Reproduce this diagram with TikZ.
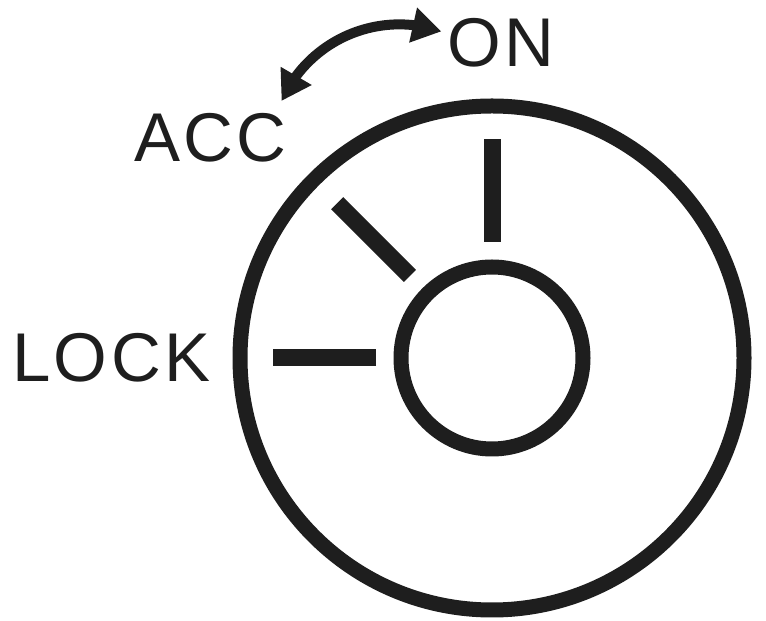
\documentclass[tikz,border=0pt]{standalone}
\usepackage{fontspec}
\setmainfont{Liberation Sans}
\newfontfamily\lblfont{Liberation Sans}[LetterSpace=5]
\usetikzlibrary{arrows.meta,bending,calc}
\definecolor{ink}{HTML}{1E1E1E}
\begin{document}
\begin{tikzpicture}[x=1pt,y=1pt,
  ring/.style={draw=ink,line width=15pt},
  tick/.style={draw=ink,line width=17pt,line cap=butt},
  lbl/.style={anchor=base west,inner sep=0pt,text=ink,font=\lblfont\fontsize{69}{69}\selectfont},
  swing/.style={draw=ink,line width=10pt,
    {Triangle[length=29pt,width=34pt,flex]}-{Triangle[length=29pt,width=34pt,flex]}}]
\useasboundingbox (0,0) rectangle (766,621);
\coordinate (c) at (492,263);
\coordinate (ac) at (399.4,467.6);
\draw[ring] (c) circle[radius=252];
\draw[ring] (c) circle[radius=91];
\draw[tick] ($(c)+(90:116)$) -- ($(c)+(90:219)$);
\draw[tick] ($(c)+(135:116)$) -- ($(c)+(135:219)$);
\draw[tick] ($(c)+(180:116)$) -- ($(c)+(180:219)$);
\node[lbl] (on) at (447,554) {ON};
\node[lbl] (acc) at (134,459) {ACC};
\node[lbl] (lock) at (12,239.3) {LOCK};
\draw[swing] ($(ac)+(156:129)$) arc[start angle=156,end angle=71,radius=129];
\end{tikzpicture}
\end{document}
